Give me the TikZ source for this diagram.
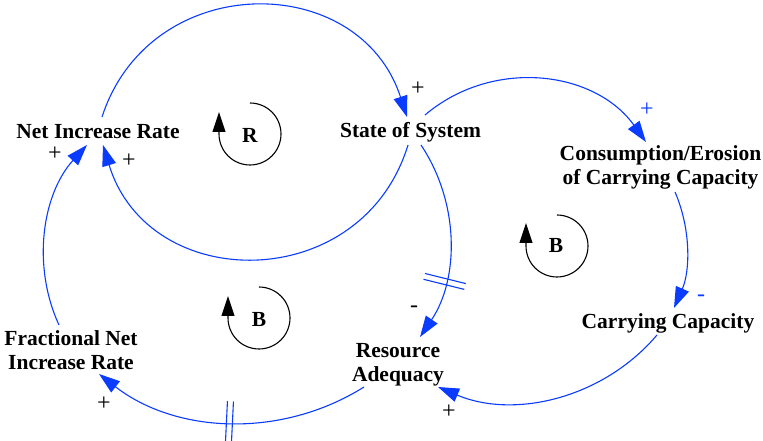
\documentclass[tikz,border=0pt]{standalone}
\usepackage{fontspec}
\setmainfont{Liberation Serif}
\usetikzlibrary{arrows.meta,decorations.markings}
\definecolor{linkblue}{RGB}{10,60,255}
\begin{document}
\begin{tikzpicture}[x=1pt,y=1pt,
  var/.style={font=\fontsize{21.5}{24}\selectfont\bfseries, align=center, inner sep=0pt},
  looplabel/.style={font=\fontsize{21.5}{24}\selectfont\bfseries, inner sep=0pt},
  sign/.style={font=\fontsize{24}{26}\selectfont, inner sep=0pt},
  bluesign/.style={sign, text=linkblue},
  link/.style={draw=linkblue, line width=1.1pt, -{Triangle[length=21pt,width=14pt]}},
  loopsym/.style={draw=black, line width=1.1pt, -{Triangle[length=20pt,width=13pt]}},
  delay/.style={postaction={decorate, decoration={markings,
      mark=at position #1 with {\draw[linkblue, line width=1.1pt, arrows=-]
        (-3,-21) -- (-3,21) (3,-21) -- (3,21);}}}}]

\path[fill=white] (0,0) rectangle (763,441);
\useasboundingbox (0,0) rectangle (763,441);

% variables
\node[var] (nir)  at (98,309)    {Net Increase Rate};
\node[var] (sos)  at (410.5,309) {State of System};
\node[var] (cec)  at (660.5,274) {Consumption/Erosion\\of Carrying Capacity};
\node[var] (cc)   at (668,118)   {Carrying Capacity};
\node[var] (ra)   at (398,76.5)  {Resource\\Adequacy};
\node[var] (fnir) at (71,91)     {Fractional Net\\Increase Rate};

% causal links
\draw[link] ([shift={(4,15)}]nir.center)
  .. controls +(72:155) and +(108:155) .. ([shift={(-3.5,15)}]sos.center);
\draw[link] ([shift={(-2.5,-13)}]sos.center)
  .. controls +(-107:157) and +(-73:157) .. ([shift={(5,-13)}]nir.center);
\draw[link] ([shift={(14.5,17)}]sos.center)
  .. controls +(40.3:88.5) and +(125.7:88.5) .. ([shift={(-14.5,25)}]cec.center);
\draw[link] ([shift={(14.5,-25)}]cec.center)
  .. controls +(-66.6:40.5) and +(66.4:40.5) .. ([shift={(6,15)}]cc.center);
\draw[link] ([shift={(-11,-12)}]cc.center)
  .. controls +(-130.3:83) and +(-22.9:83) .. ([shift={(40,-22.5)}]ra.center);
\draw[link, delay=0.70] ([shift={(10.5,-13)}]sos.center)
  .. controls +(-56.3:70) and +(56.1:70) .. ([shift={(22,27.5)}]ra.center);
\draw[link, delay=0.50] ([shift={(-34,-22.5)}]ra.center)
  .. controls +(-147.9:97.5) and +(-37.8:97.5) .. ([shift={(28,-24)}]fnir.center);
\draw[link] ([shift={(-12,25)}]fnir.center)
  .. controls +(114.7:66) and +(227.7:66) .. ([shift={(-11,-13)}]nir.center);

% link polarities
\node[sign] (s1) at (55,287)  {+};
\node[sign] (s2) at (129,280) {+};
\node[sign] (s3) at (418,352) {+};
\node[bluesign] (s4) at (647,331) {+};
\node[bluesign] (s5) at (701,143) {-};
\node[sign] (s6) at (414,132) {-};
\node[sign] (s7) at (449,29)  {+};
\node[sign] (s8) at (104,37)  {+};

% loop identifiers
\draw[loopsym] (250,338) arc[start angle=90, end angle=-180, radius=31] -- ++(0,22);
\node[looplabel] (loopR) at (250,305.5) {R};
\draw[loopsym] (259,154) arc[start angle=90, end angle=-180, radius=31] -- ++(0,22);
\node[looplabel] (loopB1) at (259,122) {B};
\draw[loopsym] (557,226) arc[start angle=90, end angle=-180, radius=31] -- ++(0,23);
\node[looplabel] (loopB2) at (556,195.5) {B};

\end{tikzpicture}
\end{document}
